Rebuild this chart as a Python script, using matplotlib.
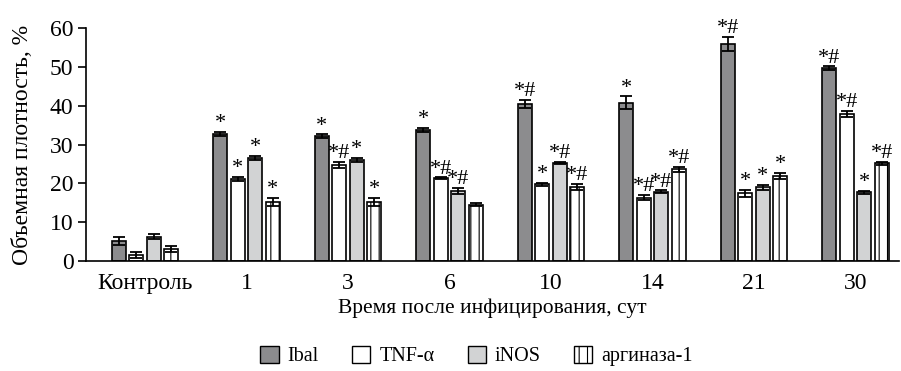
import numpy as np
import matplotlib
matplotlib.use('Agg')
import matplotlib.pyplot as plt
from matplotlib.patches import Patch

plt.rcParams['font.family'] = ['Liberation Serif', 'DejaVu Serif']
plt.rcParams['hatch.linewidth'] = 0.8

groups = ['Контроль', '1', '3', '6', '10', '14', '21', '30']
series = ['Ibal', 'TNF-α', 'iNOS', 'аргиназа-1']

iba1 = [5.2, 32.7, 32.2, 33.8, 40.5, 40.8, 55.9, 49.7]
tnf = [1.5, 21.2, 24.8, 21.3, 19.8, 16.3, 17.4, 37.8]
inos = [6.3, 26.5, 26.0, 18.0, 25.2, 17.8, 19.0, 17.7]
arg1 = [3.0, 15.2, 15.2, 14.5, 19.1, 23.6, 21.9, 25.2]

iba1_err = [1.0, 0.6, 0.4, 0.5, 1.0, 1.6, 1.8, 0.4]
tnf_err = [0.8, 0.5, 0.8, 0.3, 0.4, 0.7, 1.0, 0.8]
inos_err = [0.7, 0.6, 0.6, 0.8, 0.3, 0.4, 0.6, 0.4]
arg1_err = [0.8, 1.1, 1.0, 0.4, 0.8, 0.6, 0.8, 0.4]

iba1_sig = ['', '*', '*', '*', '*#', '*', '*#', '*#']
tnf_sig = ['', '*', '*#', '*#', '*', '*#', '*', '*#']
inos_sig = ['', '*', '*', '*#', '*#', '*#', '*', '*']
arg1_sig = ['', '*', '*', '', '*#', '*#', '*', '*#']

values = [iba1, tnf, inos, arg1]
errors = [iba1_err, tnf_err, inos_err, arg1_err]
marks = [iba1_sig, tnf_sig, inos_sig, arg1_sig]
colors = ['#8c8c8e', 'white', '#d2d3d4', 'white']
hatches = [None, None, None, '||']

fig = plt.figure(figsize=(9.01, 3.71), dpi=100)
ax = fig.add_axes([0.0955, 0.2965, 0.9025, 0.628])

x = np.arange(len(groups))
pitch = 0.172
width = 0.138
for i in range(4):
    xs = x + (i - 1.5) * pitch
    ax.bar(xs, values[i], width, color=colors[i], edgecolor='black',
           linewidth=1.2, hatch=hatches[i], zorder=2)
    ax.errorbar(xs, values[i], yerr=errors[i], fmt='none', ecolor='black',
                elinewidth=1.3, capsize=4, capthick=1.3, zorder=3)
    for xi, v, e, s in zip(xs, values[i], errors[i], marks[i]):
        if s:
            ax.annotate(s, (xi, v + e), xytext=(0, -1), textcoords='offset points',
                        ha='center', va='bottom', fontsize=16, annotation_clip=False)

ax.set_xlim(-0.58, 7.43)
ax.set_ylim(0, 60)
ax.set_yticks(range(0, 61, 10))
ax.set_xticks(x)
ax.set_xticklabels(groups)
ax.tick_params(axis='x', length=0, labelsize=17, pad=9)
ax.tick_params(axis='y', direction='out', length=6, width=1.2, labelsize=17, pad=3)
ax.spines['top'].set_visible(False)
ax.spines['right'].set_visible(False)
ax.spines['left'].set_linewidth(1.2)
ax.spines['bottom'].set_linewidth(1.2)
ax.set_ylabel('Объемная плотность, %', fontsize=17, labelpad=12)
ax.set_xlabel('Время после инфицирования, сут', fontsize=15.5, labelpad=3)

handles = [Patch(facecolor=colors[i], edgecolor='black', hatch=hatches[i], linewidth=1.0)
           for i in range(4)]
fig.legend(handles, series, loc='center', bbox_to_anchor=(0.529, 0.04), ncol=4,
           frameon=False, fontsize=14.5, handlelength=0.9, handleheight=0.9,
           columnspacing=1.65, handletextpad=0.45)

fig.savefig('out.png', dpi=100)
